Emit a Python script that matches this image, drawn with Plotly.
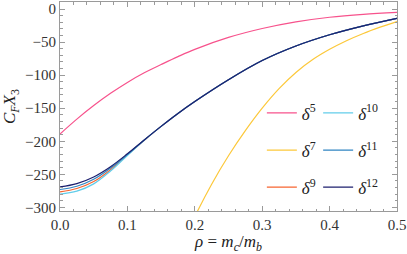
import plotly.graph_objects as go

# --- data ---
rho = [0.0, 0.025, 0.05, 0.075, 0.1, 0.125, 0.15, 0.175, 0.2, 0.25, 0.3, 0.35, 0.4, 0.45, 0.5]
d5 = [-189, -166.5, -146, -127.5, -111, -96.5, -84, -72, -61, -43, -29.5, -19.5, -12.5, -8, -5]
d9 = [-276.5, -271.5, -261, -243, -220.5, -198.5, -177.5, -158, -140, -107, -78, -56, -39, -25.5, -14]
d10 = [-280, -275.5, -264.5, -245, -221.5, -198.5, -177.5, -158, -140, -107, -78, -56, -39, -25.5, -14]
d11 = [-273, -268, -257.5, -240.5, -220, -198, -177.5, -158, -140, -107, -78, -56, -39, -25.5, -14]
d12 = [-269, -264, -254, -238.5, -219, -198, -177.5, -158, -140, -107, -78, -56, -39, -25.5, -14]
rho7 = [0.15, 0.175, 0.2, 0.225, 0.25, 0.275, 0.3, 0.325, 0.35, 0.375, 0.4, 0.425, 0.45, 0.475, 0.5]
d7 = [-430, -369, -314, -265, -222, -184, -150, -120.5, -96, -76.5, -61, -48, -37, -27.5, -19]

x_ticks = [0.0, 0.1, 0.2, 0.3, 0.4, 0.5]
y_ticks = [0, -50, -100, -150, -200, -250, -300]

series = [
    ("<i>δ</i><sup>5</sup>", rho, d5, "#f7528c", "legend"),
    ("<i>δ</i><sup>7</sup>", rho7, d7, "#fcc83a", "legend"),
    ("<i>δ</i><sup>9</sup>", rho, d9, "#f76530", "legend"),
    ("<i>δ</i><sup>10</sup>", rho, d10, "#62cdea", "legend2"),
    ("<i>δ</i><sup>11</sup>", rho, d11, "#2f84c2", "legend2"),
    ("<i>δ</i><sup>12</sup>", rho, d12, "#1c1f6e", "legend2"),
]

FONT = "Liberation Serif"
fig = go.Figure()
for i, (name, xs, ys, col, lg) in enumerate(series):
    fig.add_trace(go.Scatter(
        x=xs, y=ys, mode="lines", name=name, line=dict(color=col, width=1.2, shape="spline"),
        legend=lg, legendgroup=f"g{i}",
    ))

axis_common = dict(
    showline=True, linecolor="#9a9a9a", linewidth=1, mirror="allticks",
    ticks="inside", ticklen=5, tickwidth=1, tickcolor="#9a9a9a",
    showgrid=False, zeroline=False, automargin=False,
    tickfont=dict(family=FONT, size=15, color="#333333"),
)

fig.update_layout(
    width=407, height=254,
    margin=dict(l=60, r=10, t=2, b=43),
    paper_bgcolor="white", plot_bgcolor="white",
    font=dict(family=FONT, color="#222222"),
    xaxis=dict(
        range=[0, 0.5], tickvals=x_ticks, tickformat=".1f",
        minor=dict(dtick=0.02, ticks="inside", ticklen=2.5, tickcolor="#9a9a9a"),
        title=dict(text="<i>ρ</i> = <i>m<sub>c</sub></i>/<i>m<sub>b</sub></i>",
                   font=dict(family=FONT, size=17, color="#222222"), standoff=2),
        **axis_common,
    ),
    yaxis=dict(
        range=[-305.5, 10.6], tickvals=y_ticks,
        minor=dict(dtick=10, ticks="inside", ticklen=2.5, tickcolor="#9a9a9a"),
        title=dict(text="<i>C<sub>F</sub>X</i><sub>3</sub>",
                   font=dict(family=FONT, size=17, color="#222222"), standoff=6),
        **axis_common,
    ),
    legend=dict(x=0.599, y=0.553, xanchor="left", yanchor="top", bgcolor="rgba(0,0,0,0)",
                font=dict(family=FONT, size=17, color="#222222"), tracegroupgap=12),
    legend2=dict(x=0.766, y=0.553, xanchor="left", yanchor="top", bgcolor="rgba(0,0,0,0)",
                 font=dict(family=FONT, size=17, color="#222222"), tracegroupgap=12),
)

fig.write_html(
    "out.html",
    config={"displayModeBar": False},
    post_script="document.body.style.margin='0px';document.body.style.overflow='hidden';",
)
